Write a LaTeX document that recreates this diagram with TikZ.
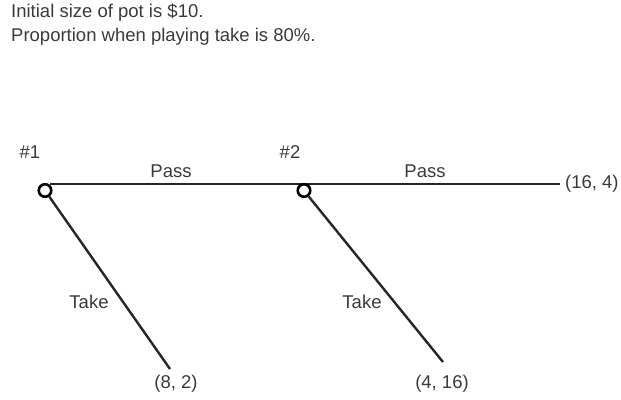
\documentclass[tikz,border=0pt]{standalone}
\usepackage{fontspec}
\setmainfont{Liberation Sans}
\usetikzlibrary{backgrounds}
\definecolor{txt}{HTML}{3A3A3A}
\tikzset{
  every node/.style={font=\fontsize{18.5}{22}\selectfont, text=txt, inner sep=0pt},
  dec/.style={circle, draw=black, fill=white, line width=2.6pt, minimum size=12.5pt},
  edge/.style={draw=black!85, line width=2.4pt},
}
\begin{document}
\begin{tikzpicture}[x=1pt,y=-1pt]
\useasboundingbox (0,0) rectangle (621,399);
\node[anchor=west] (t1) at (11,13) {Initial size of pot is \$10.};
\node[anchor=west] (t2) at (11,37) {Proportion when playing take is 80\%.};
\node[dec] (n1) at (45,190.5) {};
\node[dec] (n2) at (304,190.5) {};
\coordinate (e1) at (170,369);
\coordinate (e2) at (443,362);
\coordinate (e3) at (560,184);
\node (h1) at (30,152) {\#1};
\node (h2) at (290,152) {\#2};
\node (p1) at (171,171) {Pass};
\node (p2) at (425,171) {Pass};
\node (k1) at (89,302) {Take};
\node (k2) at (362,302) {Take};
\node[anchor=west] (o3) at (565,184) {(16, 4)};
\node (o1) at (176,384) {(8, 2)};
\node (o2) at (442,384) {(4, 16)};
\begin{scope}[on background layer]
\draw[edge] (n1.north east |- e3) -- (e3);
\end{scope}
\draw[edge] (n1.-55) -- (e1);
\draw[edge] (n2.-52) -- (e2);
\end{tikzpicture}
\end{document}
